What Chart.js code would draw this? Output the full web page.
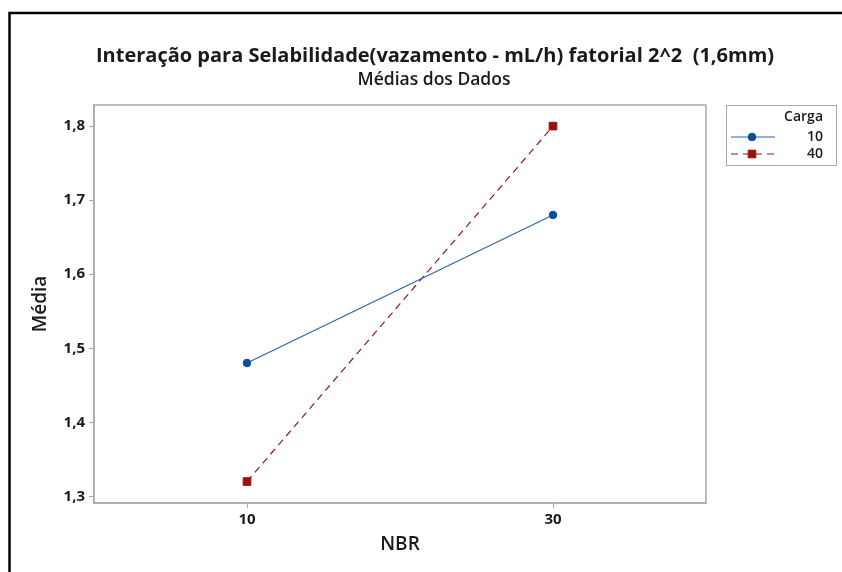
<!DOCTYPE html>
<html lang="pt">
<head>
<meta charset="UTF-8">
<title>Interação para Selabilidade</title>
<script src="https://cdn.jsdelivr.net/npm/chart.js"></script>
<style>
  body { margin: 0; background: #fff; }
  .wrap { width: 842px; height: 572px; }
</style>
</head>
<body>
<div class="wrap"><canvas id="interacao" width="842" height="572"></canvas></div>
<script>
// níveis do fator NBR (eixo x) e médias por nível de Carga
const nbrNiveis = ['10', '30'];
const cargaNiveis = ['10', '40'];
const mediasCarga10 = [1.48, 1.68];
const mediasCarga40 = [1.32, 1.80];
const yTicks = [1.3, 1.4, 1.5, 1.6, 1.7, 1.8];

const titulo = 'Interação para Selabilidade(vazamento - mL/h) fatorial 2^2  (1,6mm)';
const subtitulo = 'Médias dos Dados';
const FONTE = "'Open Sans', 'Noto Sans', sans-serif";
const CINZA = '#a9a9a9';
const TEXTO = '#1a1a1a';

const virgula = v => Number(v).toFixed(1).replace('.', ',');

// moldura externa, contorno da área do gráfico, títulos e legenda
const moldura = {
  id: 'moldura',
  beforeDraw(chart) {
    const ctx = chart.ctx;
    ctx.save();
    ctx.fillStyle = '#fff';
    ctx.fillRect(0, 0, chart.width, chart.height);
    ctx.strokeStyle = '#000';
    ctx.lineWidth = 2.5;
    ctx.beginPath();
    ctx.moveTo(9.5, chart.height + 5);
    ctx.lineTo(9.5, 13);
    ctx.lineTo(chart.width + 5, 13);
    ctx.stroke();
    ctx.restore();
  },
  beforeDatasetsDraw(chart) {
    const { ctx, chartArea: a } = chart;
    ctx.save();
    ctx.strokeStyle = CINZA;
    ctx.lineWidth = 1.5;
    ctx.strokeRect(a.left, a.top, a.right - a.left, a.bottom - a.top);
    ctx.restore();
  },
  afterDraw(chart) {
    const ctx = chart.ctx;
    ctx.save();
    ctx.fillStyle = TEXTO;
    ctx.textAlign = 'center';
    ctx.textBaseline = 'middle';
    ctx.font = `700 20px ${FONTE}`;
    ctx.fillText(titulo, 435, 56);
    ctx.font = `600 17.5px ${FONTE}`;
    ctx.fillText(subtitulo, 434, 80);

    // legenda
    const lx = 726, ly = 105, lw = 110, lh = 60;
    ctx.strokeStyle = CINZA;
    ctx.lineWidth = 1;
    ctx.strokeRect(lx + 0.5, ly + 0.5, lw, lh);
    ctx.textAlign = 'right';
    ctx.font = `600 14px ${FONTE}`;
    ctx.fillText('Carga', 823, 117);
    chart.data.datasets.forEach((ds, i) => {
      const y = 137 + i * 17;
      ctx.save();
      ctx.strokeStyle = ds.borderColor;
      ctx.lineWidth = 1.2;
      ctx.setLineDash(ds.borderDash || []);
      ctx.beginPath();
      ctx.moveTo(731, y);
      ctx.lineTo(775, y);
      ctx.stroke();
      ctx.restore();
      ctx.fillStyle = ds.pointBackgroundColor;
      ctx.strokeStyle = ds.pointBackgroundColor;
      Chart.helpers.drawPoint(ctx, {
        pointStyle: ds.pointStyle, radius: ds.pointRadius, rotation: 0, borderWidth: 1
      }, 752, y);
      ctx.fillStyle = TEXTO;
      ctx.font = `600 14px ${FONTE}`;
      ctx.fillText(ds.label, 823, y);
    });
    ctx.restore();
  }
};

new Chart(document.getElementById('interacao').getContext('2d'), {
  type: 'line',
  data: {
    labels: nbrNiveis,
    datasets: [{
      label: cargaNiveis[0],
      data: mediasCarga10,
      borderColor: '#2b67ab',
      borderWidth: 1.2,
      pointStyle: 'circle',
      pointRadius: 3.8,
      pointBackgroundColor: '#0b4f9c',
      pointBorderColor: '#0b4f9c',
      pointBorderWidth: 1,
      tension: 0
    }, {
      label: cargaNiveis[1],
      data: mediasCarga40,
      borderColor: '#8e1b1b',
      borderWidth: 1.2,
      borderDash: [7, 5],
      pointStyle: 'rect',
      pointRadius: 5.4,
      pointBackgroundColor: '#9c0f0f',
      pointBorderColor: '#9c0f0f',
      pointBorderWidth: 1,
      tension: 0
    }]
  },
  options: {
    responsive: false,
    devicePixelRatio: 1,
    animation: false,
    layout: { padding: { left: 0, right: 136, top: 105, bottom: 0 } },
    plugins: { legend: { display: false }, title: { display: false }, tooltip: { enabled: false } },
    scales: {
      x: {
        type: 'category',
        offset: true,
        afterFit(scale) { scale.height = 69; },
        grid: { drawOnChartArea: false, offset: false, color: CINZA, tickLength: 5 },
        border: { color: CINZA, width: 1.5 },
        ticks: { color: TEXTO, padding: 3, font: { family: FONTE, size: 15, weight: '700' } },
        title: {
          display: true, text: 'NBR', color: TEXTO,
          font: { family: FONTE, size: 19, weight: '600' },
          padding: { top: 0, bottom: 16 }
        }
      },
      y: {
        min: 1.291,
        max: 1.8285,
        afterFit(scale) { scale.width = 94; },
        afterBuildTicks(scale) { scale.ticks = yTicks.map(v => ({ value: v })); },
        grid: { drawOnChartArea: false, color: CINZA, tickLength: 5 },
        border: { color: CINZA, width: 1.5 },
        ticks: {
          color: TEXTO, padding: 4,
          font: { family: FONTE, size: 15, weight: '700' },
          callback: v => virgula(v)
        },
        title: {
          display: true, text: 'Média', color: TEXTO,
          font: { family: FONTE, size: 19, weight: '600' },
          padding: { top: 29, bottom: 0 }
        }
      }
    }
  },
  plugins: [moldura]
});
</script>
</body>
</html>
